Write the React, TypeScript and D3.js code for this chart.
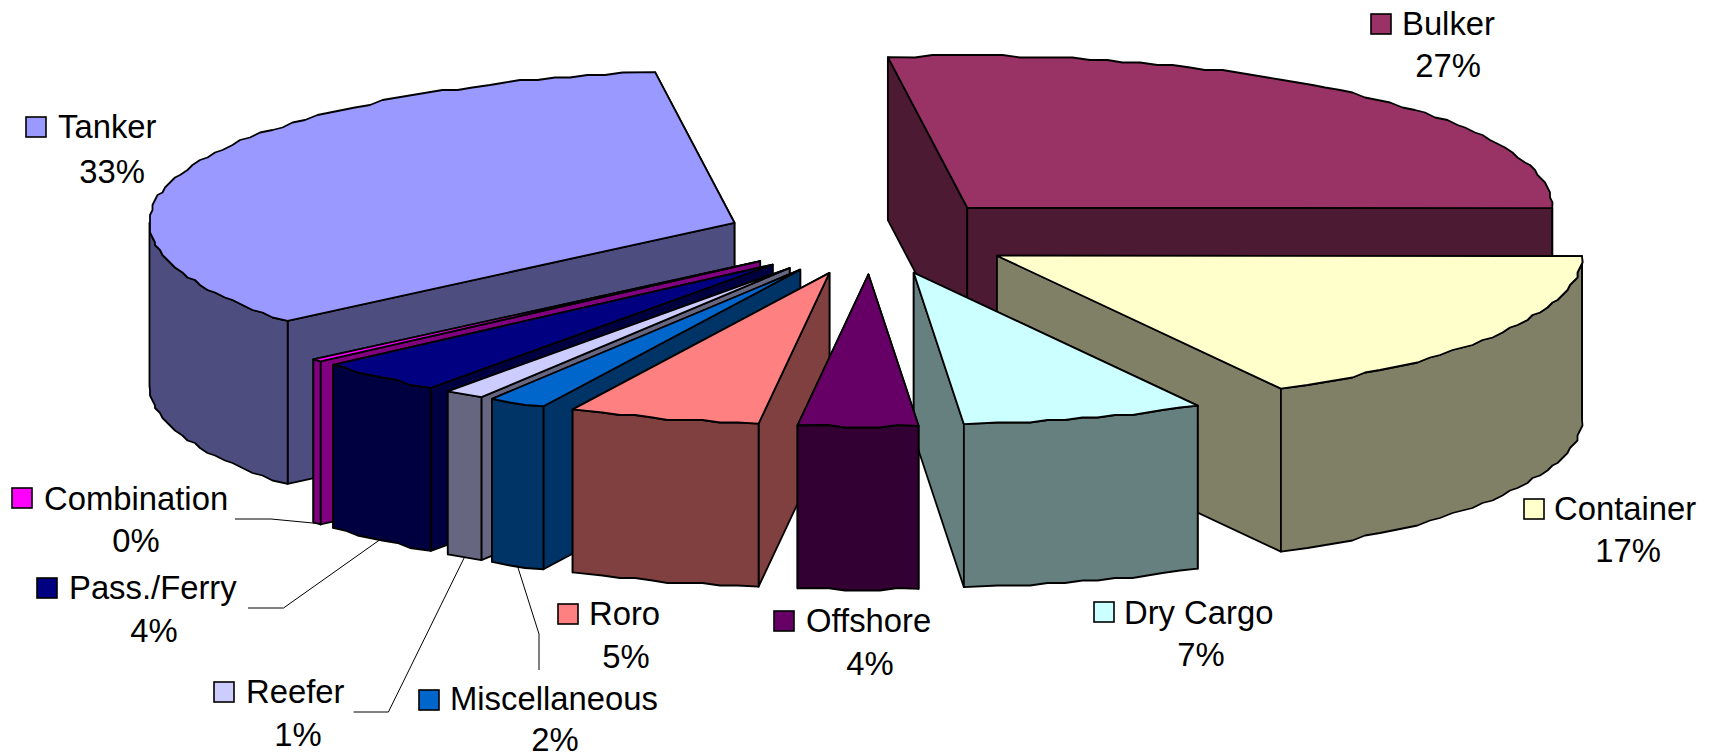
import React, { useRef, useEffect } from "react";
import * as d3 from "d3";

// shares
const categories = ["Bulker", "Container", "Dry Cargo", "Offshore", "Roro", "Miscellaneous", "Reefer", "Pass./Ferry", "Combination", "Tanker"];
const shares = [27.2, 16.9, 6.7, 3.3, 5.3, 1.6, 1.1, 3.6, 0.3, 34.0];
const percentLabels = ["27%", "17%", "7%", "4%", "5%", "2%", "1%", "4%", "0%", "33%"];
const topColors = ["#993366", "#FFFFCC", "#CCFFFF", "#660066", "#FF8080", "#0066CC", "#CCCCFF", "#000080", "#FF00FF", "#9999FF"];
const wallColors = ["#4D1A33", "#808066", "#668080", "#330033", "#804040", "#003366", "#666680", "#000040", "#800080", "#4D4D80"];

const width = 1717;
const height = 753;
const cx = 871;
const cy = 236.4;
const rx = 585;
const ry = 152;
const depth = 163;
const explode = 0.25;
const startDeg = -7.8;
const fontSize = 32.8;
const swatch = 20;
const rimStep = 0.03;

// back to front
const drawOrder = ["Tanker", "Bulker", "Combination", "Pass./Ferry", "Reefer", "Miscellaneous", "Roro", "Container", "Dry Cargo", "Offshore"];

// swatch centre, name start and baseline, percent centre and baseline
const labelLayout = {
  "Bulker": { sx: 1381, sy: 24, tx: 1402, ty: 35, px: 1448, py: 77 },
  "Container": { sx: 1534, sy: 509, tx: 1554, ty: 520, px: 1628, py: 562 },
  "Dry Cargo": { sx: 1104, sy: 612, tx: 1124, ty: 624, px: 1201, py: 666 },
  "Offshore": { sx: 784, sy: 621, tx: 806, ty: 632, px: 870, py: 675 },
  "Roro": { sx: 568, sy: 614, tx: 589, ty: 625, px: 626, py: 668 },
  "Miscellaneous": { sx: 429, sy: 700, tx: 450, ty: 710, px: 555, py: 751 },
  "Reefer": { sx: 224, sy: 692, tx: 246, ty: 703, px: 298, py: 746 },
  "Pass./Ferry": { sx: 47, sy: 588, tx: 69, ty: 599, px: 154, py: 642 },
  "Combination": { sx: 22, sy: 498, tx: 44, ty: 510, px: 136, py: 552 },
  "Tanker": { sx: 36, sy: 127, tx: 58, ty: 138, px: 112, py: 183 },
};

// leader lines run from the label through an elbow to the slice
const leaders = {
  "Combination": [[235, 519], [271, 519]],
  "Pass./Ferry": [[248, 608], [283.5, 608]],
  "Reefer": [[353.6, 712], [388.4, 712]],
  "Miscellaneous": [[539, 670], [539, 634]],
};

const App = () => {
  const svgRef = useRef(null);

  useEffect(() => {
    const svg = d3.select(svgRef.current);
    svg.selectAll("*").remove();

    const start = (startDeg * Math.PI) / 180;
    const arcs = d3.pie<number>().sort(null).startAngle(start).endAngle(start + 2 * Math.PI)(shares);

    const xScale = d3.scaleLinear().domain([0, 1]).range([0, rx]);
    const yScale = d3.scaleLinear().domain([0, 1]).range([0, ry]);
    const line = d3.line();

    const project = (angle, r) => [xScale(r * Math.sin(angle)), -yScale(r * Math.cos(angle))];
    const snap = (v) => Math.round(v / 2.5) * 2.5;

    // the rim is stepped in the original, so snap it to a coarse grid.
    // fixed angle grid so the top and the wall of a slice share their points
    const rimPoints = (a0, a1, ox, oy) => {
      const inner = d3.range(Math.ceil(a0 / rimStep) + 1, Math.floor(a1 / rimStep)).map((k) => {
        const [x, y] = project(k * rimStep, 1);
        return [snap(ox + x), snap(oy + y)];
      });
      const [x0, y0] = project(a0, 1);
      const [x1, y1] = project(a1, 1);
      return [[ox + x0, oy + y0], ...inner, [ox + x1, oy + y1]];
    };

    const pieGroup = svg.append("g").attr("class", "pie");

    const drawFace = (points, fill) => {
      pieGroup.append("path")
        .attr("d", line(points) + "Z")
        .attr("fill", fill)
        .attr("stroke", "black")
        .attr("stroke-width", 1.8)
        .attr("stroke-linejoin", "round");
    };

    drawOrder.forEach((name) => {
      const i = categories.indexOf(name);
      const arc = arcs[i];
      const mid = (arc.startAngle + arc.endAngle) / 2;
      const [dx, dy] = project(mid, explode);
      const ox = cx + dx;
      const oy = cy + dy;

      // radial walls, the one further back first
      const walls = [arc.startAngle, arc.endAngle].map((a) => {
        const [x, y] = project(a, 1);
        return { y: oy + y, points: [[ox, oy], [ox + x, oy + y], [ox + x, oy + y + depth], [ox, oy + depth]] };
      });
      walls.sort((a, b) => a.y - b.y).forEach((w) => drawFace(w.points, wallColors[i]));

      // curved wall: only the part facing the viewer
      const frontFrom = Math.max(arc.startAngle, Math.PI / 2);
      const frontTo = Math.min(arc.endAngle, (3 * Math.PI) / 2);
      if (frontTo > frontFrom) {
        const rim = rimPoints(frontFrom, frontTo, ox, oy);
        drawFace([...rim, ...rim.map(([x, y]) => [x, y + depth]).reverse()], wallColors[i]);
      }

      drawFace([[ox, oy], ...rimPoints(arc.startAngle, arc.endAngle, ox, oy)], topColors[i]);
    });

    // leader lines
    const leaderGroup = svg.append("g").attr("class", "leaders");
    Object.keys(leaders).forEach((name) => {
      const arc = arcs[categories.indexOf(name)];
      const mid = (arc.startAngle + arc.endAngle) / 2;
      const [dx, dy] = project(mid, explode);
      const [x, y] = project(mid, 1);
      leaderGroup.append("path")
        .attr("d", line([...leaders[name], [cx + dx + x, cy + dy + y + depth]]))
        .attr("fill", "none")
        .attr("stroke", "black")
        .attr("stroke-width", 1);
    });

    // labels
    const labelGroup = svg.append("g").attr("class", "labels")
      .attr("font-family", "'Liberation Sans', Arial, sans-serif")
      .attr("font-size", fontSize)
      .attr("fill", "black");
    categories.forEach((name, i) => {
      const l = labelLayout[name];
      labelGroup.append("rect")
        .attr("x", l.sx - swatch / 2)
        .attr("y", l.sy - swatch / 2)
        .attr("width", swatch)
        .attr("height", swatch)
        .attr("fill", topColors[i])
        .attr("stroke", "black")
        .attr("stroke-width", 1.6);
      labelGroup.append("text").attr("x", l.tx).attr("y", l.ty).text(name);
      labelGroup.append("text").attr("x", l.px).attr("y", l.py).attr("text-anchor", "middle").text(percentLabels[i]);
    });
  }, []);

  return (
    <svg
      ref={svgRef}
      width={width}
      height={height}
      style={{ position: "absolute", left: 0, top: 0, display: "block" }}
    />
  );
};

export default App;
